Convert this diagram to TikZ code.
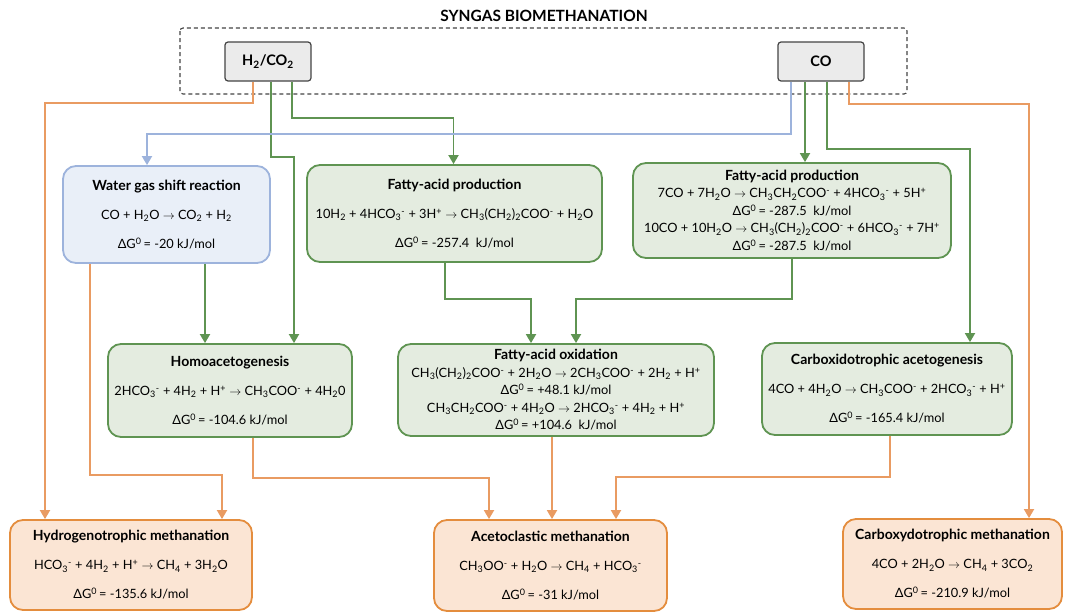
\documentclass[tikz,border=0pt]{standalone}
\usepackage{fontspec}
\setmainfont{Lato}
\usetikzlibrary{arrows.meta,positioning,calc}
\definecolor{syngreen}{HTML}{5F9452}
\definecolor{syngreenfill}{HTML}{E4ECE0}
\definecolor{synblue}{HTML}{9DB3DC}
\definecolor{synbluefill}{HTML}{E9EFF8}
\definecolor{synorange}{HTML}{E99B62}
\definecolor{synorangeline}{HTML}{E48D3E}
\definecolor{synorangefill}{HTML}{FBE5D4}
\definecolor{syngray}{HTML}{444444}
\definecolor{syngrayfill}{HTML}{EBEBEB}
\newcommand{\sbs}[1]{\textsubscript{#1}}
\newcommand{\sps}[1]{\textsuperscript{#1}}
\newcommand{\yields}{$\rightarrow$}
\newcommand{\dGzero}[1]{ΔG\sps{0}\,= #1 kJ/mol}
\newcommand{\boxtitle}[1]{{\fontsize{14}{17.5}\selectfont\bfseries #1}}

\begin{document}
\begin{tikzpicture}[x=1pt,y=-1pt,>={Triangle[width=10pt,length=9pt]},
box/.style={draw,rounded corners=13pt,line width=1.8pt,align=center,inner sep=0pt,font=\fontsize{12.8}{17.5}\selectfont},
greenbox/.style={box,draw=syngreen,fill=syngreenfill},
bluebox/.style={box,draw=synblue,fill=synbluefill},
orangebox/.style={box,draw=synorangeline,fill=synorangefill},
gasbox/.style={draw=syngray,fill=syngrayfill,rounded corners=3pt,line width=1.2pt,minimum width=86pt,minimum height=39pt,font=\fontsize{14.5}{17}\selectfont\bfseries},
link/.style={->,line width=1.8pt,rounded corners=0pt}]
\useasboundingbox (0,0) rectangle (1073,611);
\node (title) at (544,16) {\fontsize{15.5}{18}\selectfont\bfseries SYNGAS BIOMETHANATION};
\draw[syngray,line width=1.1pt,dash pattern=on 4pt off 3pt,rounded corners=3pt] (180,28) rectangle (907,94);
\node[gasbox] (h2co2) at (268,61.5) {H\sbs{2}/CO\sbs{2}};
\node[gasbox] (co) at (821,61.5) {CO};
\node[bluebox,minimum width=207pt,minimum height=97pt] (wgs) at (166.5,214.5)
{\boxtitle{Water gas shift reaction}\\[11.5pt] CO + H\sbs{2}O \yields{} CO\sbs{2} + H\sbs{2}\\[11.5pt] \dGzero{-20}};
\node[greenbox,minimum width=295pt,minimum height=97pt] (faprodA) at (454.5,213.5)
{\boxtitle{Fatty-acid production}\\[11.5pt] 10H\sbs{2} + 4HCO\sbs{3}\sps{-} + 3H\sps{+} \yields{} CH\sbs{3}(CH\sbs{2})\sbs{2}COO\sps{-} + H\sbs{2}O\\[11.5pt] \dGzero{-257.4\ }};
\node[greenbox,minimum width=318pt,minimum height=95pt] (faprodB) at (792,210.5)
{\boxtitle{Fatty-acid production}\\ 7CO + 7H\sbs{2}O \yields{} CH\sbs{3}CH\sbs{2}COO\sps{-} + 4HCO\sbs{3}\sps{-} + 5H\sps{+}\\ \dGzero{-287.5\ }\\
10CO + 10H\sbs{2}O \yields{} CH\sbs{3}(CH\sbs{2})\sbs{2}COO\sps{-} + 6HCO\sbs{3}\sps{-} + 7H\sps{+}\\ \dGzero{-287.5\ }};
\node[greenbox,minimum width=244pt,minimum height=93pt] (homo) at (230,390.5)
{\boxtitle{Homoacetogenesis}\\[11.5pt] 2HCO\sbs{3}\sps{-} + 4H\sbs{2} + H\sps{+} \yields{} CH\sbs{3}COO\sps{-} + 4H\sbs{2}0\\[11.5pt] \dGzero{-104.6}};
\node[greenbox,minimum width=316pt,minimum height=92pt] (faox) at (556,390)
{\boxtitle{Fatty-acid oxidation}\\ CH\sbs{3}(CH\sbs{2})\sbs{2}COO\sps{-} + 2H\sbs{2}O \yields{} 2CH\sbs{3}COO\sps{-} + 2H\sbs{2} + H\sps{+}\\ \dGzero{+48.1}\\
CH\sbs{3}CH\sbs{2}COO\sps{-} + 4H\sbs{2}O \yields{} 2HCO\sbs{3}\sps{-} + 4H\sbs{2} + H\sps{+}\\ \dGzero{+104.6\ }};
\node[greenbox,minimum width=250pt,minimum height=92pt] (carbacet) at (887,389)
{\boxtitle{Carboxidotrophic acetogenesis}\\[11.5pt] 4CO + 4H\sbs{2}O \yields{} CH\sbs{3}COO\sps{-} + 2HCO\sbs{3}\sps{-} + H\sps{+}\\[11.5pt] \dGzero{-165.4}};
\node[orangebox,minimum width=242pt,minimum height=90pt] (hydro) at (131,565)
{\boxtitle{Hydrogenotrophic methanation}\\[11.5pt] HCO\sbs{3}\sps{-} + 4H\sbs{2} + H\sps{+} \yields{} CH\sbs{4} + 3H\sbs{2}O\\[11.5pt] \dGzero{-135.6}};
\node[orangebox,minimum width=233pt,minimum height=91pt] (aceto) at (550.5,565.5)
{\boxtitle{Acetoclastic methanation}\\[11.5pt] CH\sbs{3}OO\sps{-} + H\sbs{2}O \yields{} CH\sbs{4} + HCO\sbs{3}\sps{-}\\[11.5pt] \dGzero{-31}};
\node[orangebox,minimum width=219pt,minimum height=90pt] (carbmeth) at (952.5,564)
{\boxtitle{Carboxydotrophic methanation}\\[11.5pt] 4CO + 2H\sbs{2}O \yields{} CH\sbs{4} + 3CO\sbs{2}\\[11.5pt] \dGzero{-210.9}};
\draw[link,synorange] ([xshift=-15pt]h2co2.south) -- ++(0,21) -| ([xshift=-86pt]hydro.north);
\draw[link,syngreen] ([xshift=3pt]h2co2.south) -- ++(0,75) -| ([xshift=64pt]homo.north);
\draw[link,syngreen] ([xshift=24pt]h2co2.south) -- ++(0,36) -| ([xshift=-1pt]faprodA.north);
\draw[link,synblue] ([xshift=-30pt]co.south) -- ++(0,52) -| ([xshift=-19.5pt]wgs.north);
\draw[link,syngreen] ([xshift=-16pt]co.south) -- ([xshift=-16pt]co.south |- faprodB.north);
\draw[link,syngreen] ([xshift=6pt]co.south) -- ++(0,67) -| ([xshift=83pt]carbacet.north);
\draw[link,synorange] ([xshift=28pt]co.south) -- ++(0,22) -| ([xshift=76.5pt]carbmeth.north);
\draw[link,syngreen] ([xshift=38.5pt]wgs.south) -- ([xshift=38.5pt]wgs.south |- homo.north);
\draw[link,synorange] ([xshift=-76.5pt]wgs.south) -- ++(0,211) -| ([xshift=91pt]hydro.north);
\draw[link,syngreen] ([xshift=-9.5pt]faprodA.south) -- ++(0,36) -| ([xshift=-25pt]faox.north);
\draw[link,syngreen] (faprodB.south) -- ++(0,40) -| ([xshift=20pt]faox.north);
\draw[link,synorange] ([xshift=23pt]homo.south) -- ++(0,40) -| ([xshift=-61.5pt]aceto.north);
\draw[link,synorange] ([xshift=-4pt]faox.south) -- ([xshift=-4pt]faox.south |- aceto.north);
\draw[link,synorange] ([xshift=3pt]carbacet.south) -- ++(0,41) -| ([xshift=65.5pt]aceto.north);
\end{tikzpicture}
\end{document}
